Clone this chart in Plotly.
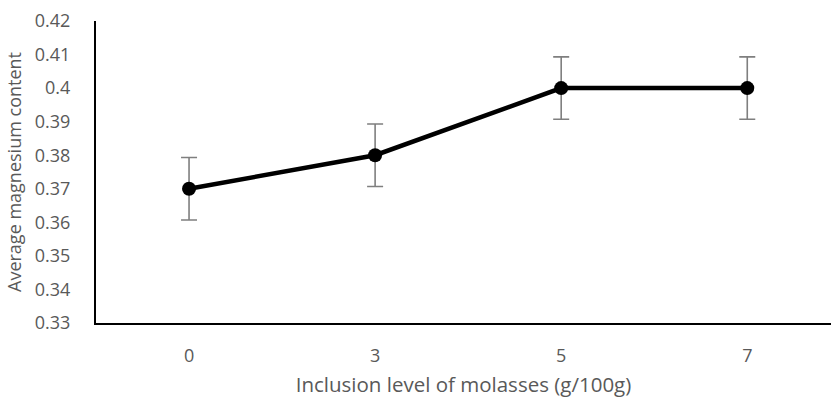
import plotly.graph_objects as go

categories = ["0", "3", "5", "7"]
values = [0.37, 0.38, 0.40, 0.40]
errors = [0.0093, 0.0093, 0.0093, 0.0093]
y_ticks = [0.33, 0.34, 0.35, 0.36, 0.37, 0.38, 0.39, 0.40, 0.41, 0.42]
y_tick_labels = ["0.33", "0.34", "0.35", "0.36", "0.37", "0.38", "0.39", "0.4", "0.41", "0.42"]

fig = go.Figure()
fig.add_trace(go.Scatter(
    x=list(range(len(categories))), y=values,
    mode="lines+markers",
    line=dict(color="black", width=4.5),
    marker=dict(color="black", size=14),
    error_y=dict(type="data", array=errors, visible=True, color="#7f7f7f", thickness=1.6, width=8),
    showlegend=False,
))

font_family = "'Open Sans', sans-serif"
fig.update_layout(
    width=831, height=399,
    margin=dict(l=96, r=0, t=21, b=76),
    plot_bgcolor="white", paper_bgcolor="white",
    font=dict(family=font_family, color="#595959", size=18),
    xaxis=dict(
        range=[-0.5, 3.45],
        tickvals=list(range(len(categories))), ticktext=categories,
        showgrid=False, zeroline=False,
        showline=True, linecolor="black", linewidth=2,
        ticks="", ticklabelstandoff=15,
        title=dict(text="Inclusion level of molasses (g/100g)", font=dict(size=20.5, color="#595959"), standoff=12),
    ),
    yaxis=dict(
        range=[0.33, 0.42],
        tickvals=y_ticks, ticktext=y_tick_labels,
        showgrid=False, zeroline=False,
        showline=True, linecolor="black", linewidth=2,
        ticks="", ticklabelstandoff=20,
        title=dict(text="Average magnesium content", font=dict(size=18, color="#595959"), standoff=8),
    ),
)

fig.write_html("out.html")
